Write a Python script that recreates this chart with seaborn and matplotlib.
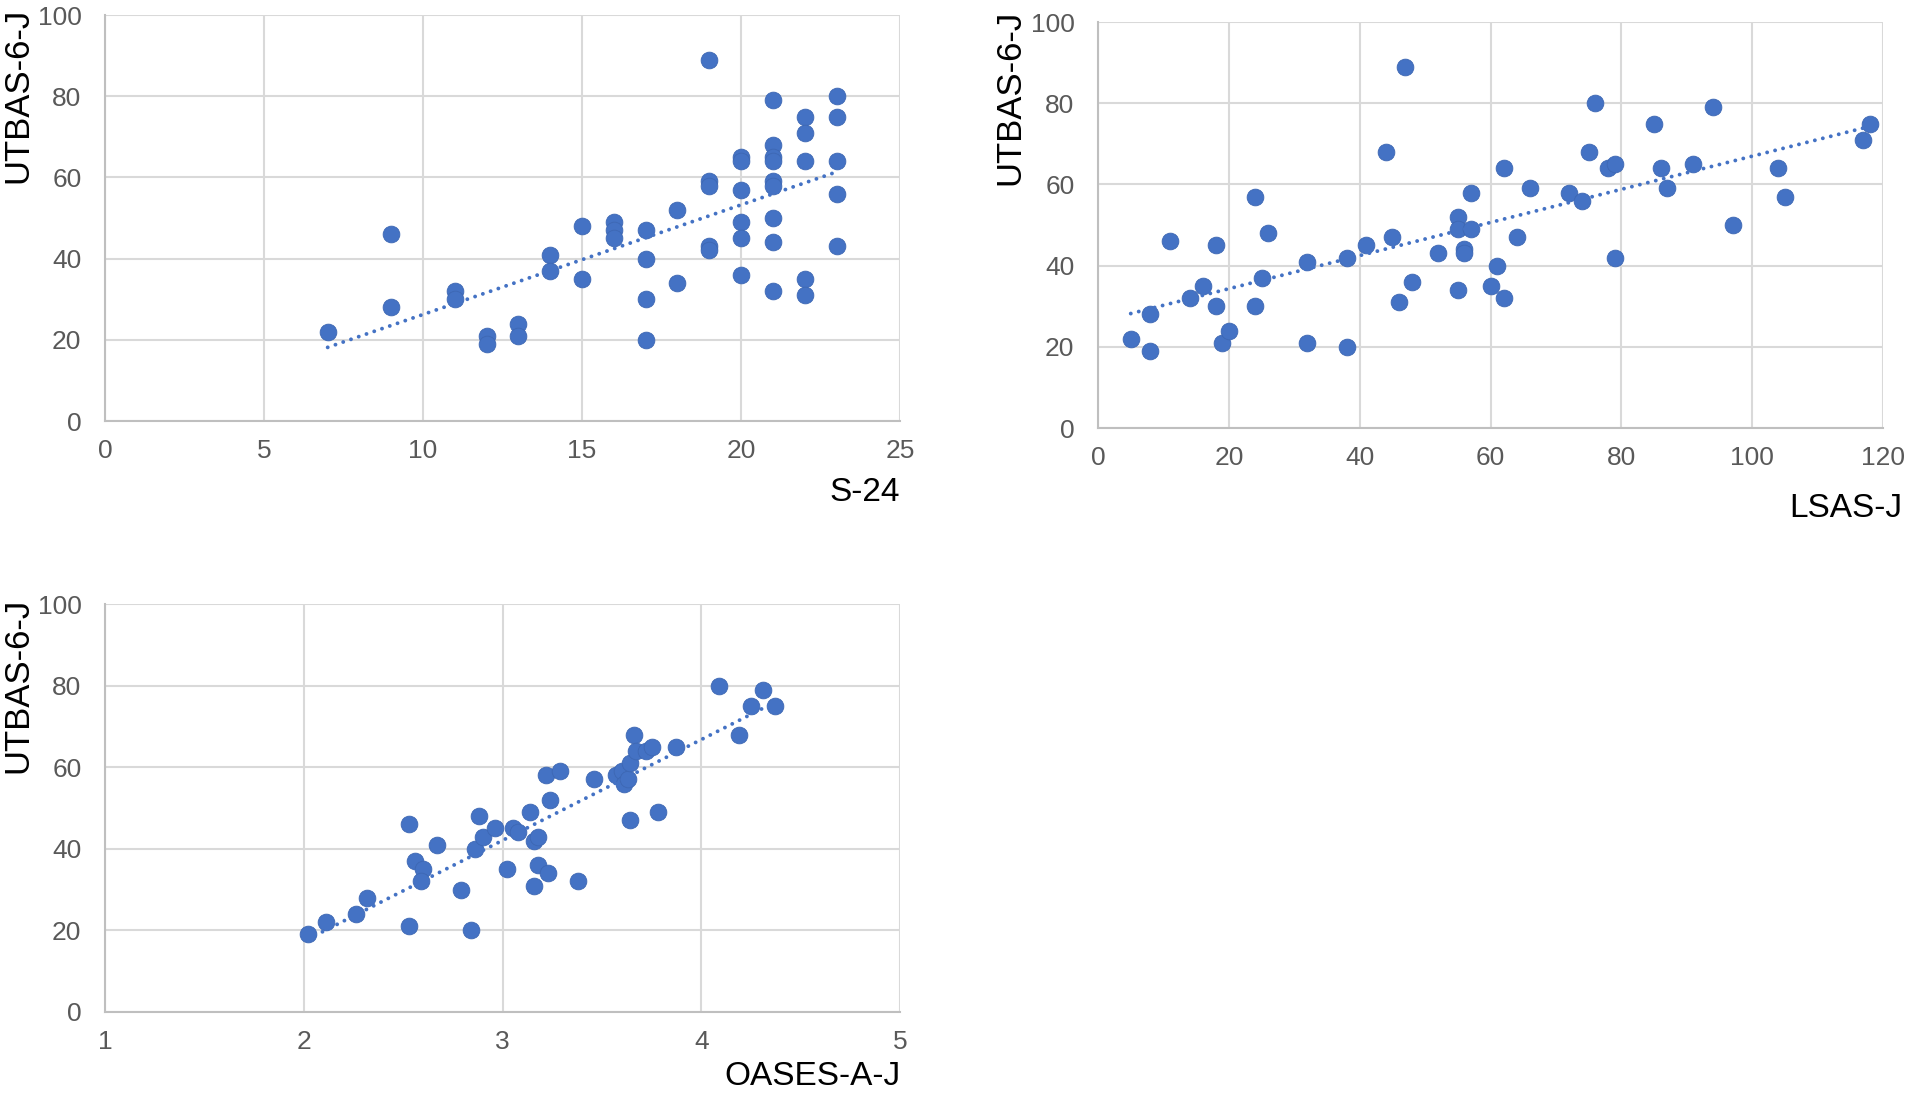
import matplotlib
matplotlib.use("Agg")
import matplotlib.pyplot as plt
import seaborn as sns
import pandas as pd

# S-24 vs UTBAS-6-J
s24 = [7, 9, 9, 11, 11, 12, 12, 13, 13, 14, 14, 15, 15, 16, 16, 16,
       17, 17, 17, 17, 18, 18, 19, 19, 19, 19, 19,
       20, 20, 20, 20, 20, 20,
       21, 21, 21, 21, 21, 21, 21, 21, 21,
       22, 22, 22, 22, 22, 23, 23, 23, 23, 23]
utbas_s24 = [22, 46, 28, 32, 30, 21, 19, 24, 21, 41, 37, 48, 35, 49, 47, 45,
             47, 40, 30, 20, 52, 34, 89, 59, 58, 43, 42,
             65, 64, 57, 49, 45, 36,
             79, 68, 65, 64, 59, 58, 50, 44, 32,
             75, 71, 64, 35, 31, 80, 75, 64, 56, 43]

# LSAS-J vs UTBAS-6-J
lsas = [5, 8, 8, 11, 14, 16, 18, 18, 19, 20, 24, 24, 25, 26, 32, 32,
        38, 38, 41, 44, 45, 46, 47, 48, 52, 55, 55, 55, 56, 56, 57, 57,
        60, 61, 62, 62, 64, 66, 72, 74, 75, 76, 78, 79, 79, 85, 86, 87,
        91, 94, 97, 104, 105, 117, 118]
utbas_lsas = [22, 28, 19, 46, 32, 35, 45, 30, 21, 24, 57, 30, 37, 48, 41, 21,
              42, 20, 45, 68, 47, 31, 89, 36, 43, 52, 49, 34, 44, 43, 58, 49,
              35, 40, 64, 32, 47, 59, 58, 56, 68, 80, 64, 65, 42, 75, 64, 59,
              65, 79, 50, 64, 57, 71, 75]

# OASES-A-J vs UTBAS-6-J
oases = [2.02, 2.11, 2.26, 2.32, 2.53, 2.53, 2.56, 2.60, 2.59, 2.67, 2.79,
         2.84, 2.86, 2.88, 2.90, 2.96, 3.02, 3.05, 3.08, 3.14, 3.16, 3.16,
         3.18, 3.18, 3.22, 3.23, 3.24, 3.29, 3.38, 3.46, 3.57, 3.60, 3.61,
         3.63, 3.64, 3.64, 3.66, 3.67, 3.72, 3.75, 3.78, 3.87, 4.09, 4.19,
         4.25, 4.31, 4.37]
utbas_oases = [19, 22, 24, 28, 46, 21, 37, 35, 32, 41, 30,
               20, 40, 48, 43, 45, 35, 45, 44, 49, 31, 42,
               43, 36, 58, 34, 52, 59, 32, 57, 58, 59, 56,
               57, 47, 61, 68, 64, 64, 65, 49, 65, 80, 68,
               75, 79, 75]

BLUE = "#4472C4"
GRID = "#D9D9D9"
TICK = "#595959"


def scatter_panel(ax, x, y, xlabel, xlim, xticks, xlab_pos, ylab_pos):
    df = pd.DataFrame({"x": x, "y": y})
    sns.regplot(data=df, x="x", y="y", ax=ax, ci=None, truncate=True,
                scatter_kws=dict(s=145, color=BLUE, edgecolor="#3D67B3",
                                 linewidths=0.6, alpha=1, zorder=3),
                line_kws=dict(color=BLUE, lw=2.8, zorder=4,
                              linestyle=(0, (0.01, 2.1)),
                              dash_capstyle="round"))
    ax.set_xlim(*xlim)
    ax.set_ylim(0, 100)
    ax.set_xticks(xticks)
    ax.set_yticks(range(0, 101, 20))
    ax.grid(True, color=GRID, lw=1.5)
    ax.set_axisbelow(True)
    for side in ["top", "right"]:
        ax.spines[side].set_visible(False)
    for side in ["left", "bottom"]:
        ax.spines[side].set_color("#BFBFBF")
        ax.spines[side].set_linewidth(1.5)
    ax.tick_params(axis="both", length=0, labelsize=19, labelcolor=TICK)
    ax.tick_params(axis="y", pad=17)
    ax.tick_params(axis="x", pad=13)
    ax.set_xlabel(xlabel, fontsize=24, color="black", ha="right", va="center")
    ax.xaxis.set_label_coords(*xlab_pos)
    # ylabel uses rotation_mode anchor: right end of the text goes on top
    ax.set_ylabel("UTBAS-6-J", fontsize=25, color="black", ha="right", va="center")
    ax.yaxis.set_label_coords(*ylab_pos)


sns.set_style("white")
plt.rcParams["font.family"] = ["Liberation Sans", "DejaVu Sans"]

fig = plt.figure(figsize=(19.07, 10.95), dpi=100)
ax1 = fig.add_axes([0.0551, 0.6155, 0.4169, 0.3708])
ax2 = fig.add_axes([0.5758, 0.6091, 0.4116, 0.3708])
ax3 = fig.add_axes([0.0551, 0.0758, 0.4169, 0.3726])

scatter_panel(ax1, s24, utbas_s24, "S-24", (0, 25), range(0, 26, 5),
              (1.0, -0.175), (-0.110, 1.017))
scatter_panel(ax2, lsas, utbas_lsas, "LSAS-J", (0, 120), range(0, 121, 20),
              (1.024, -0.197), (-0.112, 1.03))
scatter_panel(ax3, oases, utbas_oases, "OASES-A-J", (1, 5), range(1, 6),
              (1.0, -0.157), (-0.110, 1.015))

fig.savefig("out.png", dpi=100)
plt.close(fig)
